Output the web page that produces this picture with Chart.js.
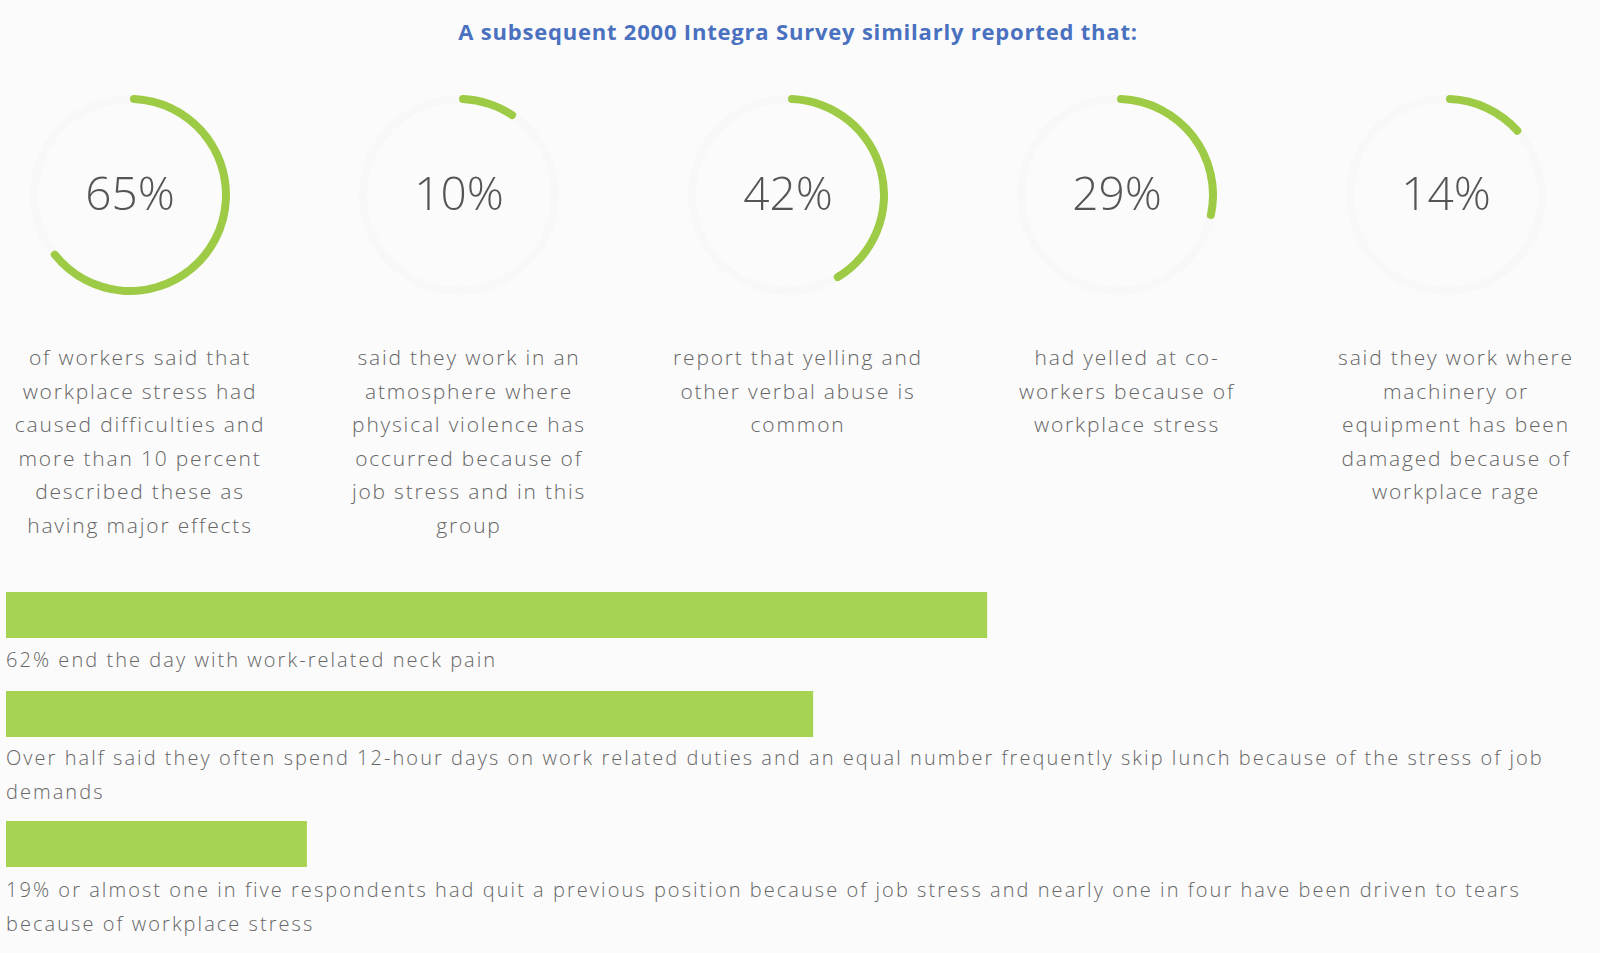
<!DOCTYPE html>
<html>
<head>
<meta charset="utf-8">
<script src="https://cdn.jsdelivr.net/npm/chart.js@4"></script>
<style>
  body { margin: 0; background: #fbfbfb; font-family: "Open Sans", sans-serif; }
  #page { position: relative; width: 1600px; height: 953px; overflow: hidden; }
  .title { position: absolute; left: 0; width: 1596px; top: 17px; text-align: center;
           font-weight: 700; font-size: 22px; color: #4a71c0; line-height: 28px; letter-spacing: 0.8px; }
  .ring { position: absolute; width: 200px; height: 200px; }
  .desc { position: absolute; width: 320px; text-align: center; white-space: pre-line;
          font-weight: 300; font-size: 21px; line-height: 33.6px; color: #666; letter-spacing: 1.8px; }
  .bar { position: absolute; left: 6px; width: 1582px; height: 46px; }
  .cap { position: absolute; left: 6px; width: 1590px; white-space: pre-line;
         font-weight: 300; font-size: 20px; line-height: 33.6px; color: #666; letter-spacing: 2.05px; }
</style>
</head>
<body>
<div id="page">
  <div class="title">A subsequent 2000 Integra Survey similarly reported that:</div>
</div>
<script>
// Donut data
const ringValues = [65, 10, 42, 29, 14];
const ringTexts = [
    'of workers said that\nworkplace stress had\ncaused difficulties and\nmore than 10 percent\ndescribed these as\nhaving major effects',
    'said they work in an\natmosphere where\nphysical violence has\noccurred because of\njob stress and in this\ngroup',
    'report that yelling and\nother verbal abuse is\ncommon',
    'had yelled at co-\nworkers because of\nworkplace stress',
    'said they work where\nmachinery or\nequipment has been\ndamaged because of\nworkplace rage'
];

// Bar data
const barValues = [62, 51, 19];
const barCaptions = [
    '62% end the day with work-related neck pain',
    'Over half said they often spend 12-hour days on work related duties and an equal number frequently skip lunch because of the stress of job\ndemands',
    '19% or almost one in five respondents had quit a previous position because of job stress and nearly one in four have been driven to tears\nbecause of workplace stress'
];

const ringCenters = [130, 459, 788, 1117, 1446];
const barTops = [592, 691, 821];
const capTops = [643, 741, 873];

const page = document.getElementById('page');

// Tulisan persen di tengah donut
const centerText = {
    id: 'centerText',
    afterDraw(chart) {
        const c = chart.ctx;
        const a = chart.chartArea;
        c.save();
        c.font = '300 46px "Open Sans"';
        c.fillStyle = '#555';
        c.textAlign = 'center';
        c.textBaseline = 'middle';
        c.fillText(chart.data.datasets[0].data[0] + '%', (a.left + a.right) / 2, (a.top + a.bottom) / 2 + 2);
        c.restore();
    }
};

function drawAll() {
    ringValues.forEach((v, i) => {
        const cv = document.createElement('canvas');
        cv.className = 'ring';
        cv.width = 200; cv.height = 200;
        cv.style.left = (ringCenters[i] - 100) + 'px';
        cv.style.top = (195 - 100) + 'px';
        page.appendChild(cv);
        new Chart(cv, {
            type: 'doughnut',
            data: {
                labels: ['value', 'rest'],
                datasets: [{
                    data: [v, 100 - v],
                    backgroundColor: ['#9dcb45', '#f8f8f8'],
                    borderWidth: 0,
                    borderRadius: ctx => ctx.dataIndex === 0 ? 4 : 0
                }]
            },
            options: {
                responsive: false,
                animation: false,
                events: [],
                cutout: 92,
                plugins: { legend: { display: false }, tooltip: { enabled: false } }
            },
            plugins: [centerText]
        });

        const d = document.createElement('div');
        d.className = 'desc';
        d.textContent = ringTexts[i];
        d.style.left = (ringCenters[i] + 10 - 160) + 'px';
        d.style.top = '341px';
        page.appendChild(d);
    });

    barValues.forEach((v, i) => {
        const cv = document.createElement('canvas');
        cv.className = 'bar';
        cv.width = 1582; cv.height = 46;
        cv.style.top = barTops[i] + 'px';
        page.appendChild(cv);
        new Chart(cv, {
            type: 'bar',
            data: {
                labels: [''],
                datasets: [{ data: [v], backgroundColor: '#a6d352', borderWidth: 0 }]
            },
            options: {
                indexAxis: 'y',
                responsive: false,
                animation: false,
                events: [],
                layout: { padding: 0 },
                scales: {
                    x: { display: false, min: 0, max: 100 },
                    y: { display: false }
                },
                datasets: { bar: { barPercentage: 1, categoryPercentage: 1 } },
                plugins: { legend: { display: false }, tooltip: { enabled: false } }
            }
        });

        const c = document.createElement('div');
        c.className = 'cap';
        c.textContent = barCaptions[i];
        c.style.top = capTops[i] + 'px';
        page.appendChild(c);
    });
}

document.fonts.load('300 46px "Open Sans"').then(drawAll, drawAll);
</script>
</body>
</html>
